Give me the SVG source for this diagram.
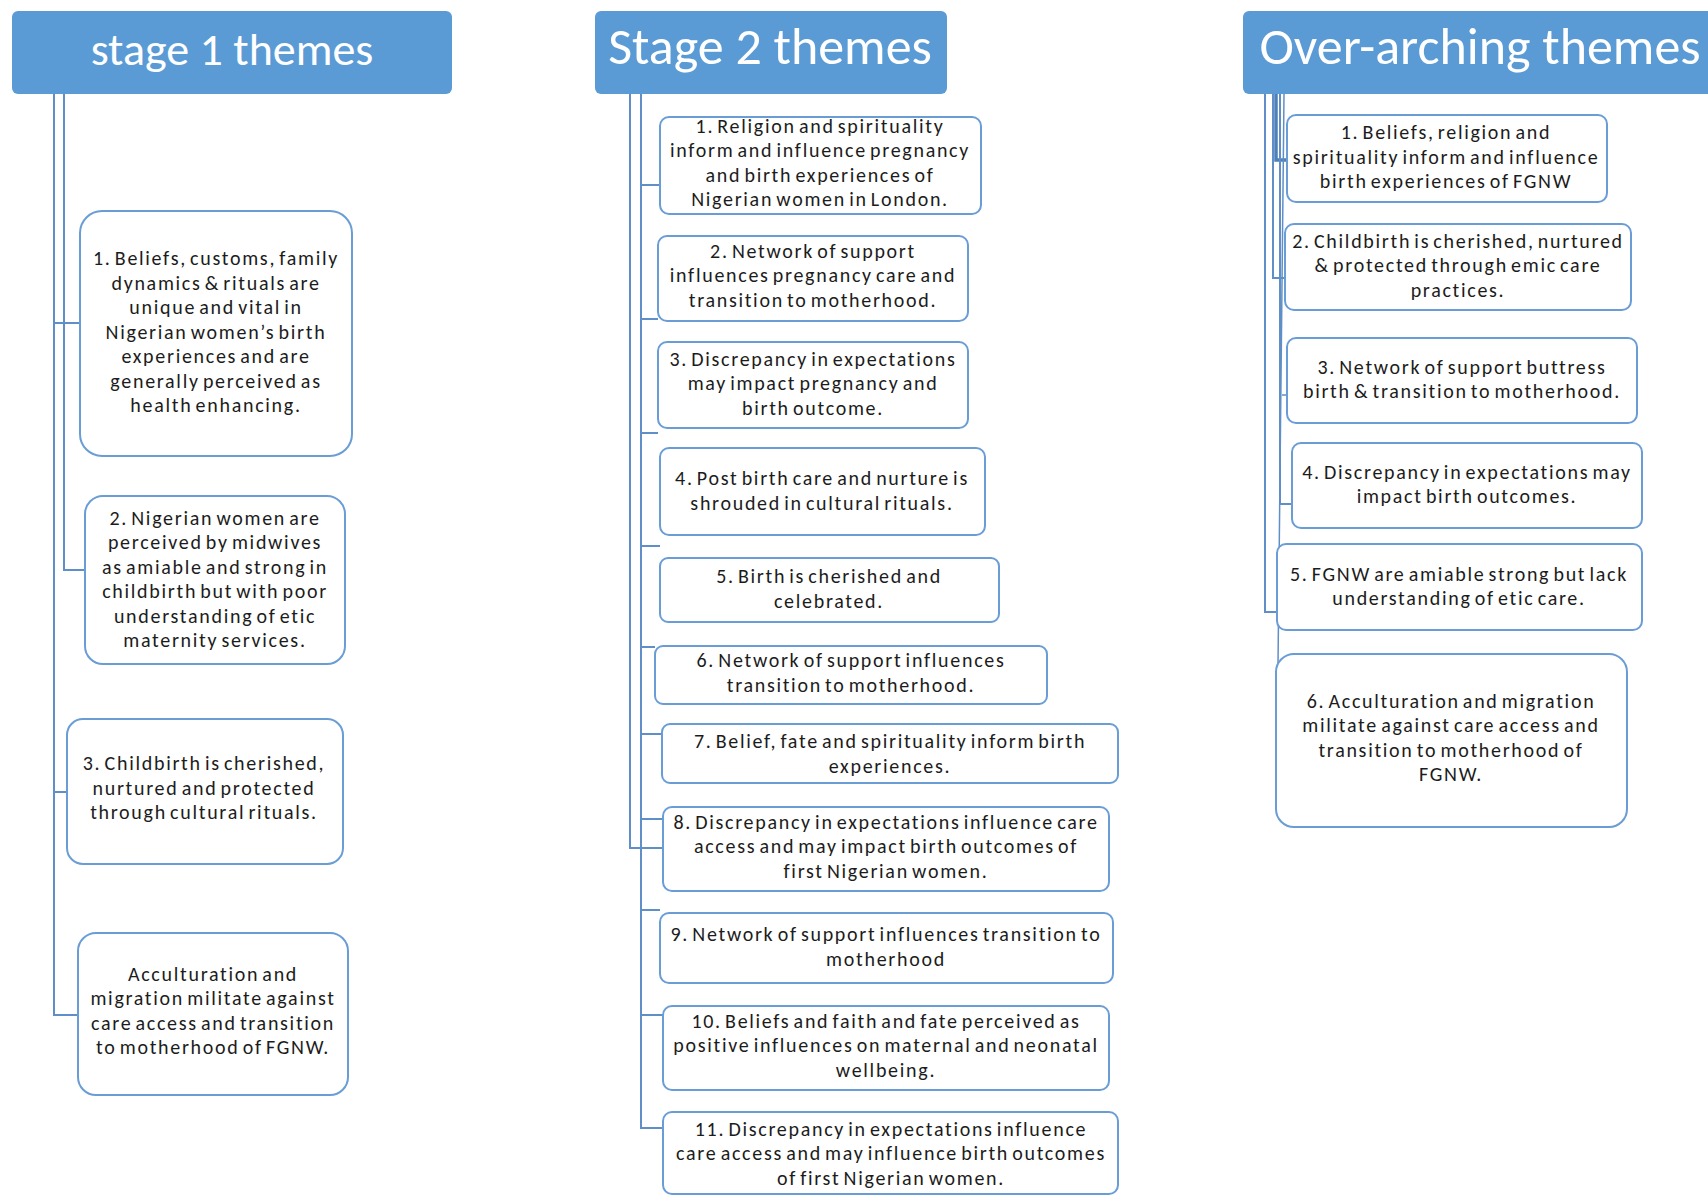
<svg xmlns="http://www.w3.org/2000/svg" width="1708" height="1196" viewBox="0 0 1708 1196">
<style>
.hdr{fill:#5B9BD5;}
.ht{font-family:Carlito,Lato,"Open Sans",sans-serif;fill:#fff;text-anchor:middle;}
.bx{fill:#fff;stroke:#6A9DD6;stroke-width:2;}
.t{font-family:Carlito,Lato,"Noto Sans",sans-serif;font-size:20px;letter-spacing:1.7px;word-spacing:-3px;fill:#1c1c1c;text-anchor:middle;}
.ln{fill:none;stroke:#5F8FC6;stroke-width:2;}
</style>
<rect width="1708" height="1196" fill="#fff"/>
<g id="connectors">
<path class="ln" d="M54 94 V1015 H78"/>
<path class="ln" d="M64 94 V570 H85"/>
<path class="ln" d="M54 323 H80"/>
<path class="ln" d="M54 792 H67"/>
<path class="ln" d="M630 94 V848 H663"/>
<path class="ln" d="M641 94 V1128 H663"/>
<path class="ln" d="M641 185 H660 M641 319 H658 M641 433 H658 M641 546 H660 M641 647 H655 M641 734 H662 M641 819 H663 M641 910 H660 M641 1015 H663"/>
<path class="ln" d="M1265 94 V612 H1290"/>
<path class="ln" d="M1273 94 V278 H1290"/>
<path class="ln" d="M1276 94 V160 H1287" style="stroke-width:3.5;stroke:#4E7FB8"/>
<path class="ln" d="M1280 94 V504 H1296"/>
<path class="ln" d="M1284 94 L1277 760 M1282 395 H1287" style="stroke-width:1.5"/>
</g>
<g id="stage1-header"><rect class="hdr" x="12" y="11" width="440" height="83" rx="6"/><text class="ht" x="232" y="65" font-size="46">stage 1 themes</text></g>
<g id="stage2-header"><rect class="hdr" x="595" y="11" width="352" height="83" rx="6"/><text class="ht" x="770" y="64" font-size="52">Stage 2 themes</text></g>
<g id="over-header"><rect class="hdr" x="1243" y="11" width="475" height="83" rx="6"/><text class="ht" x="1480" y="64" font-size="52">Over-arching themes</text></g>

<g id="s1-1"><rect class="bx" x="80" y="211" width="272" height="245" rx="22"/>
<text class="t"><tspan x="216" y="265">1. Beliefs, customs, family</tspan><tspan x="216" y="290">dynamics &amp; rituals are</tspan><tspan x="216" y="314">unique and vital in</tspan><tspan x="216" y="339">Nigerian women’s birth</tspan><tspan x="216" y="363">experiences and are</tspan><tspan x="216" y="388">generally perceived as</tspan><tspan x="216" y="412">health enhancing.</tspan></text></g>
<g id="s1-2"><rect class="bx" x="85" y="496" width="260" height="168" rx="18"/>
<text class="t"><tspan x="215" y="525">2. Nigerian women are</tspan><tspan x="215" y="549">perceived by midwives</tspan><tspan x="215" y="574">as amiable and strong in</tspan><tspan x="215" y="598">childbirth but with poor</tspan><tspan x="215" y="623">understanding of etic</tspan><tspan x="215" y="647">maternity services.</tspan></text></g>
<g id="s1-3"><rect class="bx" x="67" y="719" width="276" height="145" rx="16"/>
<text class="t"><tspan x="204" y="770">3. Childbirth is cherished,</tspan><tspan x="204" y="795">nurtured and protected</tspan><tspan x="204" y="819">through cultural rituals.</tspan></text></g>
<g id="s1-4"><rect class="bx" x="78" y="933" width="270" height="162" rx="18"/>
<text class="t"><tspan x="213" y="981">Acculturation and</tspan><tspan x="213" y="1005">migration militate against</tspan><tspan x="213" y="1030">care access and transition</tspan><tspan x="213" y="1054">to motherhood of FGNW.</tspan></text></g>

<g id="s2-1"><rect class="bx" x="660" y="117" width="321" height="97" rx="9"/>
<text class="t"><tspan x="820" y="133">1. Religion and spirituality</tspan><tspan x="820" y="157">inform and influence pregnancy</tspan><tspan x="820" y="182">and birth experiences of</tspan><tspan x="820" y="206">Nigerian women in London.</tspan></text></g>
<g id="s2-2"><rect class="bx" x="658" y="236" width="310" height="85" rx="9"/>
<text class="t"><tspan x="813" y="258">2. Network of support</tspan><tspan x="813" y="282">influences pregnancy care and</tspan><tspan x="813" y="307">transition to motherhood.</tspan></text></g>
<g id="s2-3"><rect class="bx" x="658" y="342" width="310" height="86" rx="9"/>
<text class="t"><tspan x="813" y="366">3. Discrepancy in expectations</tspan><tspan x="813" y="390">may impact pregnancy and</tspan><tspan x="813" y="415">birth outcome.</tspan></text></g>
<g id="s2-4"><rect class="bx" x="660" y="448" width="325" height="87" rx="9"/>
<text class="t"><tspan x="822" y="485">4. Post birth care and nurture is</tspan><tspan x="822" y="510">shrouded in cultural rituals.</tspan></text></g>
<g id="s2-5"><rect class="bx" x="660" y="558" width="339" height="64" rx="8"/>
<text class="t"><tspan x="829" y="583">5. Birth is cherished and</tspan><tspan x="829" y="608">celebrated.</tspan></text></g>
<g id="s2-6"><rect class="bx" x="655" y="646" width="392" height="58" rx="8"/>
<text class="t"><tspan x="851" y="667">6. Network of support influences</tspan><tspan x="851" y="692">transition to motherhood.</tspan></text></g>
<g id="s2-7"><rect class="bx" x="662" y="724" width="456" height="59" rx="8"/>
<text class="t"><tspan x="890" y="748">7. Belief, fate and spirituality inform birth</tspan><tspan x="890" y="773">experiences.</tspan></text></g>
<g id="s2-8"><rect class="bx" x="663" y="807" width="446" height="84" rx="9"/>
<text class="t"><tspan x="886" y="829">8. Discrepancy in expectations influence care</tspan><tspan x="886" y="853">access and may impact birth outcomes of</tspan><tspan x="886" y="878">first Nigerian women.</tspan></text></g>
<g id="s2-9"><rect class="bx" x="660" y="913" width="453" height="70" rx="9"/>
<text class="t"><tspan x="886" y="941">9. Network of support influences transition to</tspan><tspan x="886" y="966">motherhood</tspan></text></g>
<g id="s2-10"><rect class="bx" x="663" y="1006" width="446" height="84" rx="9"/>
<text class="t"><tspan x="886" y="1028">10. Beliefs and faith and fate perceived as</tspan><tspan x="886" y="1052">positive influences on maternal and neonatal</tspan><tspan x="886" y="1077">wellbeing.</tspan></text></g>
<g id="s2-11"><rect class="bx" x="663" y="1112" width="455" height="82" rx="9"/>
<text class="t"><tspan x="891" y="1136">11. Discrepancy in expectations influence</tspan><tspan x="891" y="1160">care access and may influence birth outcomes</tspan><tspan x="891" y="1185">of first Nigerian women.</tspan></text></g>

<g id="o-1"><rect class="bx" x="1287" y="115" width="320" height="87" rx="9"/>
<text class="t"><tspan x="1446" y="139">1. Beliefs, religion and</tspan><tspan x="1446" y="164">spirituality inform and influence</tspan><tspan x="1446" y="188">birth experiences of FGNW</tspan></text></g>
<g id="o-2"><rect class="bx" x="1285" y="224" width="346" height="86" rx="9"/>
<text class="t"><tspan x="1458" y="248">2. Childbirth is cherished, nurtured</tspan><tspan x="1458" y="272">&amp; protected through emic care</tspan><tspan x="1458" y="297">practices.</tspan></text></g>
<g id="o-3"><rect class="bx" x="1287" y="338" width="350" height="85" rx="9"/>
<text class="t"><tspan x="1462" y="374">3. Network of support buttress</tspan><tspan x="1462" y="398">birth &amp; transition to motherhood.</tspan></text></g>
<g id="o-4"><rect class="bx" x="1292" y="443" width="350" height="85" rx="9"/>
<text class="t"><tspan x="1467" y="479">4. Discrepancy in expectations may</tspan><tspan x="1467" y="503">impact birth outcomes.</tspan></text></g>
<g id="o-5"><rect class="bx" x="1277" y="544" width="365" height="86" rx="9"/>
<text class="t"><tspan x="1459" y="581">5. FGNW are amiable strong but lack</tspan><tspan x="1459" y="605">understanding of etic care.</tspan></text></g>
<g id="o-6"><rect class="bx" x="1276" y="654" width="351" height="173" rx="18"/>
<text class="t"><tspan x="1451" y="708">6. Acculturation and migration</tspan><tspan x="1451" y="732">militate against care access and</tspan><tspan x="1451" y="757">transition to motherhood of</tspan><tspan x="1451" y="781">FGNW.</tspan></text></g>
</svg>
